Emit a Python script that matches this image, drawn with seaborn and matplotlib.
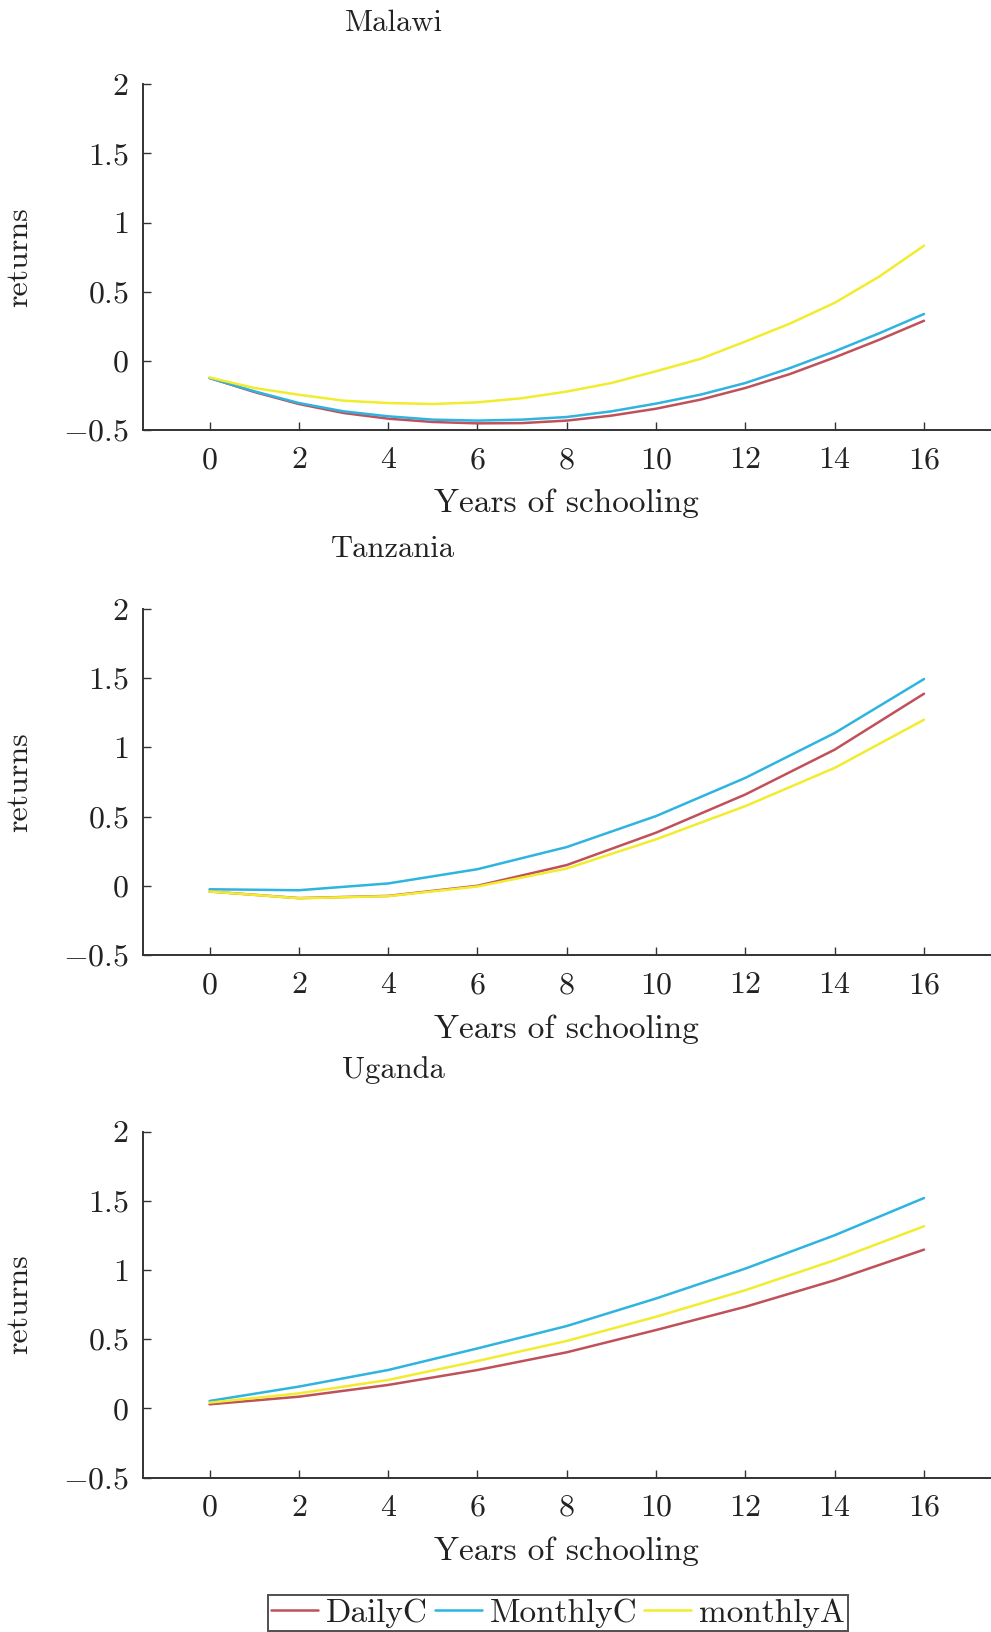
import matplotlib
matplotlib.use("Agg")
import matplotlib.pyplot as plt
import seaborn as sns
import pandas as pd
from matplotlib.ticker import FixedLocator, FixedFormatter

# ---------------- data ----------------
years_malawi = [0, 1, 2, 3, 4, 5, 6, 7, 8, 9, 10, 11, 12, 13, 14, 15, 16]
years = [0, 2, 4, 6, 8, 10, 12, 14, 16]
series_names = ["DailyC", "MonthlyC", "monthlyA"]
countries = ["Malawi", "Tanzania", "Uganda"]

malawi_dailyc   = [-0.124, -0.225, -0.312, -0.377, -0.418, -0.442, -0.452, -0.450, -0.432,
                   -0.396, -0.346, -0.28, -0.196, -0.095, 0.025, 0.153, 0.29]
malawi_monthlyc = [-0.124, -0.22, -0.305, -0.365, -0.401, -0.425, -0.432, -0.425, -0.406,
                   -0.365, -0.309, -0.244, -0.16, -0.052, 0.069, 0.20, 0.339]
malawi_monthlya = [-0.12, -0.196, -0.245, -0.288, -0.305, -0.312, -0.30, -0.27, -0.222,
                   -0.16, -0.075, 0.015, 0.14, 0.27, 0.42, 0.61, 0.833]

tanzania_dailyc   = [-0.041, -0.089, -0.073, 0.0, 0.15, 0.384, 0.66, 0.984, 1.388]
tanzania_monthlyc = [-0.025, -0.032, 0.017, 0.12, 0.28, 0.504, 0.78, 1.104, 1.494]
tanzania_monthlya = [-0.041, -0.09, -0.075, -0.005, 0.125, 0.336, 0.576, 0.852, 1.20]

uganda_dailyc   = [0.029, 0.084, 0.169, 0.277, 0.405, 0.566, 0.734, 0.926, 1.147]
uganda_monthlyc = [0.053, 0.157, 0.277, 0.433, 0.595, 0.794, 1.01, 1.251, 1.52]
uganda_monthlya = [0.041, 0.108, 0.205, 0.342, 0.487, 0.662, 0.854, 1.071, 1.316]

x_ticks = [0, 2, 4, 6, 8, 10, 12, 14, 16]
x_ticklabels = ["$0$", "$2$", "$4$", "$6$", "$8$", "$10$", "$12$", "$14$", "$16$"]
y_ticks = [-0.5, 0, 0.5, 1, 1.5, 2]
y_ticklabels = ["$-0.5$", "$0$", "$0.5$", "$1$", "$1.5$", "$2$"]

panel_years = {"Malawi": years_malawi, "Tanzania": years, "Uganda": years}
panel_values = {
    "Malawi": [malawi_dailyc, malawi_monthlyc, malawi_monthlya],
    "Tanzania": [tanzania_dailyc, tanzania_monthlyc, tanzania_monthlya],
    "Uganda": [uganda_dailyc, uganda_monthlyc, uganda_monthlya],
}
palette = {"DailyC": "#c0505a", "MonthlyC": "#2fb4e0", "monthlyA": "#f2ec2e"}

# ---------------- style ----------------
sns.set_style("ticks")
plt.rcParams.update({
    "font.family": ["cmr10", "DejaVu Serif"],
    "mathtext.fontset": "cm",
    "axes.unicode_minus": False,
    "axes.formatter.use_mathtext": True,
})
FS = 23
SPINE = "#333333"
TXT = "#222222"

W, H = 991, 1632
fig = plt.figure(figsize=(W / 100, H / 100), dpi=100)

left_px, right_px = 142.6, 991
panel_tops = [84.3, 609.0, 1131.6]
panel_bots = [430.0, 955.0, 1477.5]
title_y = [23, 549, 1070]
title_x = 393.5

axes = []
for i, country in enumerate(countries):
    t, b = panel_tops[i], panel_bots[i]
    ax = fig.add_axes([left_px / W, 1 - b / H, (right_px - left_px) / W, (b - t) / H])
    axes.append(ax)
    rows = []
    for name, vals in zip(series_names, panel_values[country]):
        for x, v in zip(panel_years[country], vals):
            rows.append({"years": x, "returns": v, "series": name})
    df = pd.DataFrame(rows)
    sns.lineplot(data=df, x="years", y="returns", hue="series",
                 hue_order=series_names, palette=palette, errorbar=None,
                 linewidth=1.8, legend=False, ax=ax)
    ax.set_xlim(-1.5, 17.5)
    ax.set_ylim(-0.5, 2)
    ax.xaxis.set_major_locator(FixedLocator(x_ticks))
    ax.xaxis.set_major_formatter(FixedFormatter(x_ticklabels))
    ax.yaxis.set_major_locator(FixedLocator(y_ticks))
    ax.yaxis.set_major_formatter(FixedFormatter(y_ticklabels))
    sns.despine(ax=ax)
    for s in ["left", "bottom"]:
        ax.spines[s].set_color(SPINE)
        ax.spines[s].set_linewidth(1.4)
    ax.tick_params(axis="both", direction="in", length=6, width=1.0,
                   color=SPINE, labelsize=FS, labelcolor=TXT)
    ax.tick_params(axis="x", pad=12)
    ax.tick_params(axis="y", pad=10)
    ax.set_xlabel("Years of schooling", fontsize=24, color=TXT)
    ax.xaxis.set_label_coords(0.5, -59.0 / (b - t))
    ax.set_ylabel("")
    fig.text(19.5 / W, 1 - ((t + b) / 2) / H, "returns", rotation=90,
             ha="center", va="center", fontsize=FS, color=TXT)
    fig.text(title_x / W, 1 - title_y[i] / H, country, ha="center", va="center",
             fontsize=FS - 1, color=TXT)

handles = axes[-1].get_lines()[:3]
leg = fig.legend(handles, series_names, loc="upper left",
                 bbox_to_anchor=(268 / W, 1 - 1595 / H), ncol=3, fontsize=24,
                 frameon=True, fancybox=False, edgecolor=TXT,
                 handlelength=1.4, handletextpad=0.25, columnspacing=0.2,
                 borderpad=0.1, borderaxespad=0)
leg.get_frame().set_linewidth(1.4)
for txt in leg.get_texts():
    txt.set_color(TXT)

fig.savefig("out.png", dpi=100)
